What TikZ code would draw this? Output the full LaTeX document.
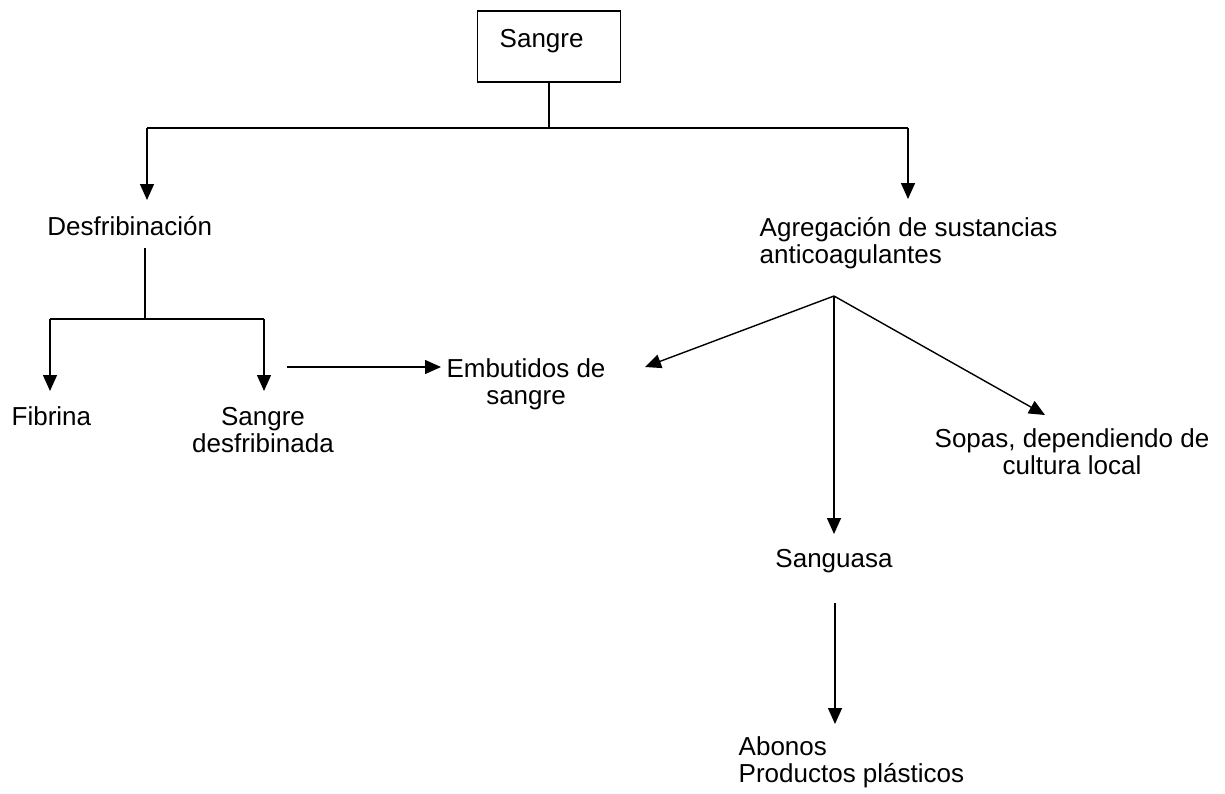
\documentclass[tikz,border=0pt]{standalone}
\usepackage{fontspec}
\setmainfont{Liberation Sans}
\usetikzlibrary{arrows.meta}
\begin{document}
\begin{tikzpicture}[x=1pt,y=-1pt,line width=1.4pt,
  arr/.style={-{Triangle[length=16pt,width=14pt]}},
  txt/.style={font=\fontsize{26}{26.5}\selectfont,inner sep=0pt}]
\useasboundingbox (0,0) rectangle (1225,793);
% box
\node[draw,line width=1.4pt,minimum width=143pt,minimum height=71pt,inner sep=0pt] (sangre) at (549,46.5) {};
\node[txt,anchor=base west] (sangretxt) at (499,47) {Sangre};
% text nodes (multi-line nodes: base = last line)
\node[txt,anchor=base west] (desf) at (46.7,235) {Desfribinación};
\node[txt,anchor=base west,align=left] (agreg) at (759,263) {Agregación de sustancias\\anticoagulantes};
\node[txt,anchor=base west] (fib) at (11,425) {Fibrina};
\node[txt,anchor=base,align=center] (sdesf) at (263,452) {Sangre\\desfribinada};
\node[txt,anchor=base,align=center] (emb) at (526,404) {Embutidos de\\sangre};
\node[txt,anchor=base,align=center] (sopas) at (1072,474) {Sopas, dependiendo de\\cultura local};
\node[txt,anchor=base] (sang) at (834,567) {Sanguasa};
\node[txt,anchor=base west,align=left] (abon) at (738,782) {Abonos\\Productos plásticos};
% coordinates
\coordinate (jTop) at (549,128);
\coordinate (jL) at (147,128);
\coordinate (jR) at (908,128);
\coordinate (tDesf) at (147,200);
\coordinate (tAgreg) at (908,199);
\coordinate (sDesf) at (145,248);
\coordinate (jD) at (145,319);
\coordinate (jF) at (50,319);
\coordinate (jS) at (264,319);
\coordinate (tFib) at (50,391);
\coordinate (tSd) at (264,391);
\coordinate (sH) at (287,367);
\coordinate (tEmb) at (441,367);
\coordinate (fan) at (834,296);
\coordinate (tEmb2) at (645,367);
\coordinate (tSopas) at (1045,415);
\coordinate (tSang) at (834,534);
\coordinate (sSang) at (835,603);
\coordinate (tAbon) at (835,724);
% connectors
\draw (sangre.south) -- (jTop);
\draw (jL) -- (jR);
\draw[arr] (jL) -- (tDesf);
\draw[arr] (jR) -- (tAgreg);
\draw (sDesf) -- (jD);
\draw (jF) -- (jS);
\draw[arr] (jF) -- (tFib);
\draw[arr] (jS) -- (tSd);
\draw[arr] (sH) -- (tEmb);
\draw[arr] (fan) -- (tEmb2);
\draw[arr] (fan) -- (tSopas);
\draw[arr] (fan) -- (tSang);
\draw[arr] (sSang) -- (tAbon);
\end{tikzpicture}
\end{document}
